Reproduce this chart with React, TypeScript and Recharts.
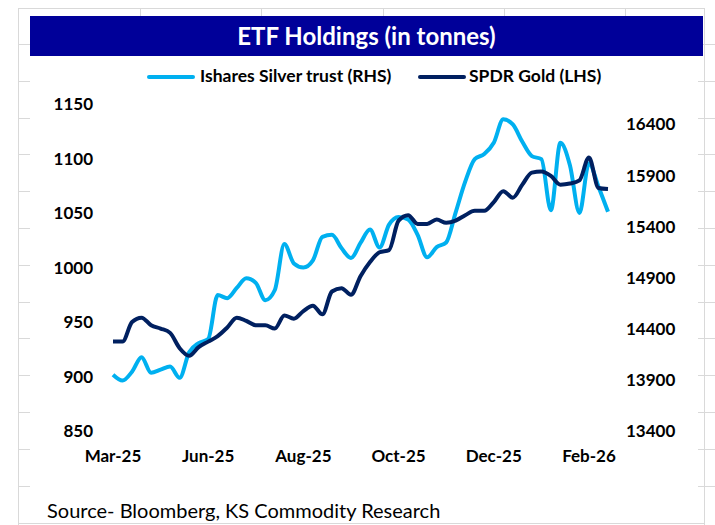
import React from 'react';
import { LineChart, Line, XAxis, YAxis } from 'recharts';

// ---- data (weekly points, Mar-25 .. Feb-26) ----
const xTickIndex = [0, 10, 20, 30, 40, 50];
const xTickLabels = ['Mar-25', 'Jun-25', 'Aug-25', 'Oct-25', 'Dec-25', 'Feb-26'];

const goldLHS = [
  932, 932, 950, 954, 947, 944, 940, 926, 919, 927,
  932, 937, 945, 954, 951, 947, 947, 944, 956, 953,
  960, 965, 957, 978, 981, 975, 992, 1005, 1014, 1016,
  1043, 1048, 1040, 1040, 1044, 1041, 1043, 1048, 1052, 1052,
  1060, 1070, 1064, 1076, 1087, 1088, 1084, 1076, 1077, 1080,
  1101, 1073, 1072,
];

const silverRHS = [
  13950, 13893, 13980, 14122, 13970, 14000, 14030, 13920, 14170, 14260,
  14300, 14730, 14700, 14800, 14895, 14850, 14680, 14780, 15230, 15040,
  15000, 15070, 15300, 15320, 15190, 15093, 15240, 15372, 15195, 15420,
  15495, 15470, 15320, 15100, 15200, 15245, 15540, 15840, 16060, 16110,
  16220, 16450, 16400, 16230, 16090, 16060, 15560, 16220, 16000, 15534,
  16020, 15790, 15545,
];

const leftTicks = [850, 900, 950, 1000, 1050, 1100, 1150];
const rightTicks = [13400, 13900, 14400, 14900, 15400, 15900, 16400];

const data = goldLHS.map((g, i) => ({ i, gold: g, silver: silverRHS[i] }));

const SILVER = '#00B0F0';
const GOLD = '#002060';
const FONT = 'Lato, "Open Sans", sans-serif';
const GRID = '#d9d9d9';

const tickStyle = { fill: '#000', fontFamily: FONT, fontWeight: 700, fontSize: 17 };

const gridRows = Array.from({ length: 13 }, (_, k) => Math.round(44 + 36.8 * k));
const gridCols = [140, 261, 383, 504, 625];

export default function App() {
  return (
    <div style={{ position: 'absolute', left: 0, top: 0, width: 715, height: 525, background: '#fff', overflow: 'hidden', fontFamily: FONT }}>
      {/* sheet grid peeking around the chart */}
      <div style={{ position: 'absolute', left: 18, top: 8, width: 1, height: 517, background: GRID }} />
      <div style={{ position: 'absolute', left: 704, top: 8, width: 1, height: 517, background: GRID }} />
      <div style={{ position: 'absolute', left: 18, top: 8, width: 687, height: 1, background: GRID }} />
      <div style={{ position: 'absolute', left: 18, top: 523, width: 687, height: 1, background: GRID }} />
      {gridRows.map((y) => (
        <React.Fragment key={'r' + y}>
          <div style={{ position: 'absolute', left: 18, top: y, width: 12, height: 1, background: GRID }} />
          <div style={{ position: 'absolute', left: 698, top: y, width: 17, height: 1, background: GRID }} />
        </React.Fragment>
      ))}
      {gridCols.map((x) => (
        <div key={'c' + x} style={{ position: 'absolute', left: x, top: 8, width: 1, height: 8, background: GRID }} />
      ))}

      {/* title bar */}
      <div style={{ position: 'absolute', left: 30, top: 16, width: 673, height: 40, background: '#000099', color: '#fff', fontWeight: 700, fontSize: 24, lineHeight: '40px', textAlign: 'center' }}>
        ETF Holdings (in tonnes)
      </div>

      {/* legend */}
      <div style={{ position: 'absolute', left: 147, top: 75, width: 48, height: 4, background: SILVER, borderRadius: 2 }} />
      <div style={{ position: 'absolute', left: 200, top: 65, fontWeight: 700, fontSize: 17.5, lineHeight: '22px', color: '#000', whiteSpace: 'nowrap' }}>
        Ishares Silver trust (RHS)
      </div>
      <div style={{ position: 'absolute', left: 418, top: 75, width: 48, height: 4, background: GOLD, borderRadius: 2 }} />
      <div style={{ position: 'absolute', left: 469, top: 65, fontWeight: 700, fontSize: 17.5, lineHeight: '22px', color: '#000', whiteSpace: 'nowrap' }}>
        SPDR Gold (LHS)
      </div>

      {/* chart */}
      <div style={{ position: 'absolute', left: 0, top: 0 }}>
        <LineChart width={715} height={525} data={data} margin={{ top: 104, right: 0, bottom: 0, left: 0 }}>
          <XAxis
            dataKey="i"
            type="number"
            domain={[0, 52]}
            ticks={xTickIndex}
            interval={0}
            tickFormatter={(v: number) => xTickLabels[xTickIndex.indexOf(v)] ?? ''}
            axisLine={false}
            tickLine={false}
            tickSize={0}
            tickMargin={19}
            height={94}
            tick={tickStyle}
          />
          <YAxis
            yAxisId="left"
            orientation="left"
            domain={[850, 1150]}
            ticks={leftTicks}
            interval={0}
            axisLine={false}
            tickLine={false}
            tickSize={0}
            tickMargin={20}
            width={113}
            tick={tickStyle}
          />
          <YAxis
            yAxisId="right"
            orientation="right"
            domain={[13400, 16600]}
            ticks={rightTicks}
            interval={0}
            axisLine={false}
            tickLine={false}
            tickSize={0}
            tickMargin={18}
            width={107}
            tick={{ ...tickStyle, textAnchor: 'start' }}
          />
          <Line yAxisId="right" dataKey="silver" type="monotone" stroke={SILVER} strokeWidth={4} dot={false} isAnimationActive={false} />
          <Line yAxisId="left" dataKey="gold" type="monotone" stroke={GOLD} strokeWidth={4} dot={false} isAnimationActive={false} />
        </LineChart>
      </div>

      {/* source */}
      <div style={{ position: 'absolute', left: 47, top: 498, fontSize: 20, lineHeight: '24px', color: '#000', whiteSpace: 'nowrap' }}>
        Source- Bloomberg, KS Commodity Research
      </div>
    </div>
  );
}
